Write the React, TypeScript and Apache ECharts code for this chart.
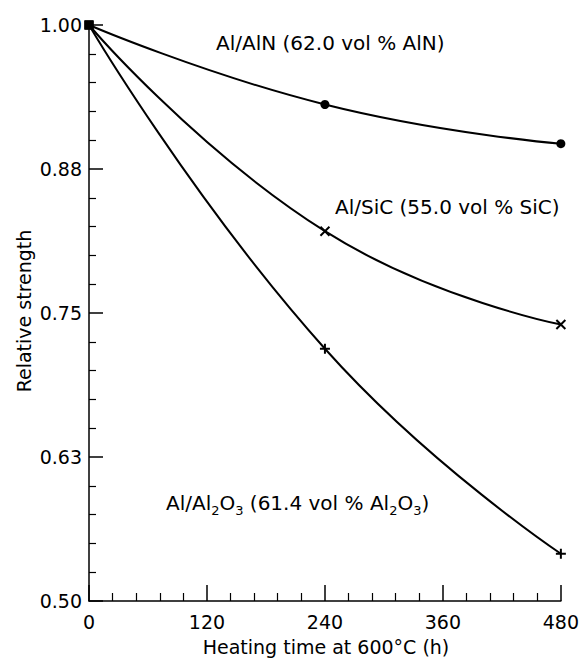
import React, { useEffect, useRef } from "react";
import * as echarts from "echarts";

// ---- data ----
const heatingTimes = [0, 240, 480];
const alnStrength = [1.0, 0.931, 0.897];
const sicStrength = [1.0, 0.821, 0.74];
const al2o3Strength = [1.0, 0.719, 0.541];

const xMin = 0;
const xMax = 480;
const xInterval = 120;
const yMin = 0.5;
const yMax = 1.0;
const yInterval = 0.125;

const xAxisTitle = "Heating time at 600°C (h)";
const yAxisTitle = "Relative strength";

const FONT = "DejaVu Sans";
const crossPath = "path://M0,0L10,10M10,0L0,10";
const plusPath = "path://M5,0L5,10M0,5L10,5";

function toData(values: number[]) {
  return heatingTimes.map((t, i) =>
    i === 0
      ? { value: [t, values[i]], symbol: "rect", symbolSize: 9, itemStyle: { color: "#000", borderWidth: 0 } }
      : [t, values[i]]
  );
}

export default function App() {
  const ref = useRef<HTMLDivElement>(null);
  useEffect(() => {
    document.body.style.margin = "0";
    const chart = echarts.init(ref.current!, undefined, { renderer: "svg" });
    const axisStyle = { color: "#000", width: 1.5 };
    const subStyle = { fontSize: 13, fontFamily: FONT, color: "#000", padding: [14, 0, 0, 0] };
    const mainStyle = { fontSize: 20, fontFamily: FONT, color: "#000" };
    chart.setOption({
      animation: false,
      backgroundColor: "#fff",
      grid: { left: 89, right: 21, top: 25, bottom: 58, containLabel: false },
      xAxis: {
        type: "value",
        min: xMin,
        max: xMax,
        interval: xInterval,
        axisLine: { lineStyle: axisStyle },
        axisTick: { inside: true, length: 16, lineStyle: { color: "#000", width: 1.5 } },
        minorTick: { show: true, splitNumber: 5, length: 8, lineStyle: { color: "#000", width: 1.2 } },
        splitLine: { show: false },
        axisLabel: { color: "#000", fontFamily: FONT, fontSize: 19, margin: 11 },
      },
      yAxis: {
        type: "value",
        min: yMin,
        max: yMax,
        interval: yInterval,
        axisLine: { lineStyle: axisStyle },
        axisTick: { inside: true, length: 14, lineStyle: { color: "#000", width: 1.5 } },
        minorTick: { show: true, splitNumber: 5, length: 7, lineStyle: { color: "#000", width: 1.2 } },
        splitLine: { show: false },
        axisLabel: {
          color: "#000",
          fontFamily: FONT,
          fontSize: 19,
          margin: 7,
          formatter: (v: number) => v.toFixed(2),
        },
      },
      graphic: [
        {
          type: "text",
          x: 326,
          y: 647,
          style: { text: xAxisTitle, font: `19px "${FONT}"`, fill: "#000", align: "center", verticalAlign: "middle" },
        },
        {
          type: "text",
          x: 24,
          y: 311,
          rotation: Math.PI / 2,
          style: { text: yAxisTitle, font: `19px "${FONT}"`, fill: "#000", align: "center", verticalAlign: "middle" },
        },
        {
          type: "text",
          x: 216,
          y: 43,
          style: { text: "Al/AlN (62.0 vol % AlN)", font: `20px "${FONT}"`, fill: "#000", align: "left", verticalAlign: "middle" },
        },
        {
          type: "text",
          x: 335,
          y: 207,
          style: { text: "Al/SiC (55.0 vol % SiC)", font: `20px "${FONT}"`, fill: "#000", align: "left", verticalAlign: "middle" },
        },
        {
          type: "text",
          x: 166,
          y: 503,
          style: {
            text: "{m|Al/Al}{s|2}{m|O}{s|3}{m| (61.4 vol % Al}{s|2}{m|O}{s|3}{m|)}",
            fill: "#000",
            align: "left",
            verticalAlign: "middle",
            rich: { m: mainStyle, s: subStyle },
          },
        },
      ],
      series: [
        {
          name: "Al/AlN",
          type: "line",
          smooth: true,
          data: toData(alnStrength),
          symbol: "circle",
          symbolSize: 9,
          lineStyle: { color: "#000", width: 2 },
          itemStyle: { color: "#000" },
        },
        {
          name: "Al/SiC",
          type: "line",
          smooth: true,
          data: toData(sicStrength),
          symbol: crossPath,
          symbolSize: 9,
          lineStyle: { color: "#000", width: 2 },
          itemStyle: { color: "#000", borderColor: "#000", borderWidth: 2 },
        },
        {
          name: "Al/Al2O3",
          type: "line",
          smooth: true,
          data: toData(al2o3Strength),
          symbol: plusPath,
          symbolSize: 10,
          lineStyle: { color: "#000", width: 2 },
          itemStyle: { color: "#000", borderColor: "#000", borderWidth: 2 },
        },
      ],
    });
    return () => chart.dispose();
  }, []);
  return <div ref={ref} style={{ width: 582, height: 659 }} />;
}
